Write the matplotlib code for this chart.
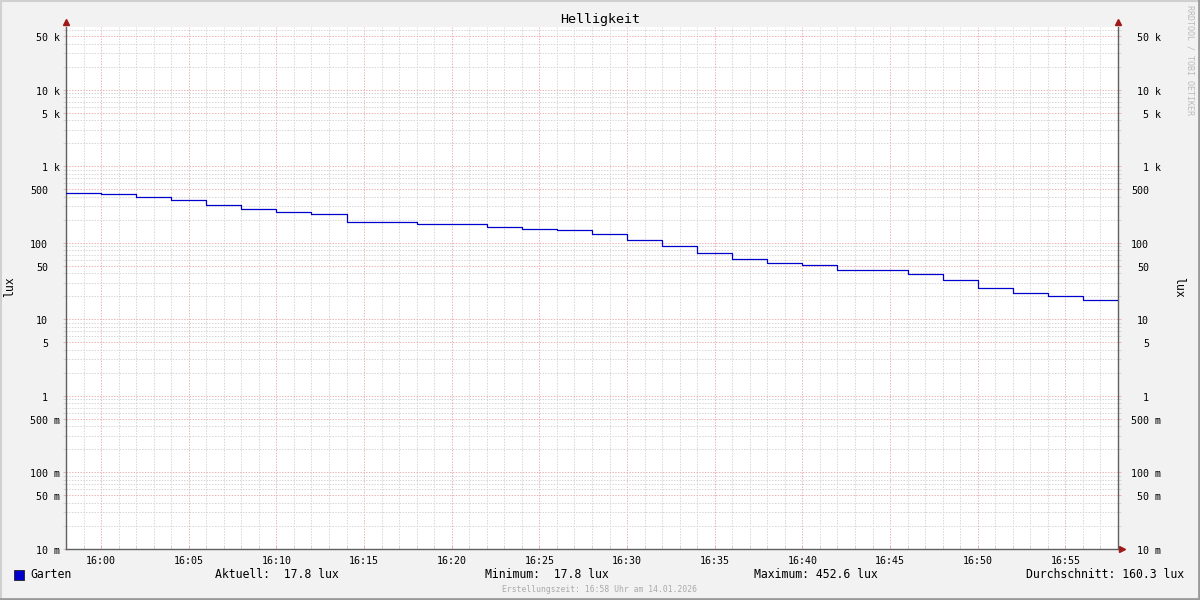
import matplotlib
matplotlib.use("Agg")
import matplotlib.pyplot as plt
import matplotlib.dates as mdates
import matplotlib.transforms as mtransforms
import pandas as pd
from matplotlib.lines import Line2D
from matplotlib.patches import Rectangle
from matplotlib.ticker import FixedLocator, NullFormatter

# brightness samples, one every 2 minutes (start of each step)
slot_times = ["15:58", "16:00", "16:02", "16:04", "16:06", "16:08", "16:10", "16:12",
              "16:14", "16:16", "16:18", "16:20", "16:22", "16:24", "16:26", "16:28",
              "16:30", "16:32", "16:34", "16:36", "16:38", "16:40", "16:42", "16:44",
              "16:46", "16:48", "16:50", "16:52", "16:54", "16:56"]
lux_values = [452.6, 433, 396, 361, 314, 276, 252, 237,
              187, 187, 176, 176, 160, 151, 147, 130,
              108, 90.5, 73.3, 61.2, 54.3, 51.1, 44.0, 44.0,
              39.0, 32.5, 25.6, 22.0, 20.1, 17.8]
end_time = "16:58"

ytick_values = [0.01, 0.05, 0.1, 0.5, 1, 5, 10, 50, 100, 500, 1000, 5000, 10000, 50000]
ytick_numbers = ["10", "50", "100", "500", "1", "5", "10", "50", "100", "500", "1", "5", "10", "50"]
ytick_suffix = ["m", "m", "m", "m", "", "", "", "", "", "", "k", "k", "k", "k"]

legend_name = "Garten"
stats = [("Aktuell:  17.8 lux", 215, "left"),
         ("Minimum:  17.8 lux", 485, "left"),
         ("Maximum: 452.6 lux", 754, "left"),
         ("Durchschnitt: 160.3 lux", 1184, "right")]
footer = "Erstellungszeit: 16:58 Uhr am 14.01.2026"

BG = "#F2F2F2"
LINE = "#0000CC"
MINOR = "#D6D6D6"
MAJOR = "#ECB4B4"
AXIS = "#606060"
ARROW = "#A01818"
FONT = "DejaVu Sans Mono"

plt.rcParams["font.family"] = [FONT]

day = "2026-01-14 "
x = pd.to_datetime([day + t for t in slot_times + [end_time]])
y = lux_values + [lux_values[-1]]

W, H = 1200, 600
fig = plt.figure(figsize=(12, 6), dpi=100, facecolor=BG)
ax = fig.add_axes([66 / W, 1 - 549 / H, (1118 - 66) / W, (549 - 27) / H])
ax.set_facecolor("white")

ax.step(x, y, where="post", color=LINE, lw=0.9, zorder=3)

ax.set_yscale("log")
ax.set_ylim(0.01, 66000)
ax.set_xlim(x[0], x[-1])

# grid
minor_y = [m * 10.0 ** e for e in range(-2, 5) for m in (2, 3, 4, 6, 7, 8, 9)]
ax.yaxis.set_major_locator(FixedLocator(ytick_values))
ax.yaxis.set_minor_locator(FixedLocator(minor_y))
ax.yaxis.set_major_formatter(NullFormatter())
ax.yaxis.set_minor_formatter(NullFormatter())
ax.xaxis.set_major_locator(mdates.MinuteLocator(byminute=range(0, 60, 5)))
ax.xaxis.set_minor_locator(mdates.MinuteLocator())
ax.xaxis.set_major_formatter(mdates.DateFormatter("%H:%M"))

dots = (0, (1.4, 1.4))
ax.grid(which="minor", color=MINOR, lw=0.72, ls=dots)
ax.grid(which="major", color=MAJOR, lw=0.72, ls=dots)
ax.set_axisbelow(True)

ax.tick_params(axis="y", which="both", direction="out", length=2, width=0.7,
               left=True, right=True, colors=MINOR)
ax.tick_params(axis="y", which="major", colors=MAJOR)
ax.tick_params(axis="x", which="both", direction="in", length=3, width=0.7, colors=MINOR)
ax.tick_params(axis="x", which="major", colors=MAJOR, labelcolor="black",
               labelsize=7.2, pad=5)

ax.spines["top"].set_visible(False)
for side in ("left", "right", "bottom"):
    ax.spines[side].set_color(AXIS)
    ax.spines[side].set_linewidth(1.0)

# y labels, both sides, number right-aligned with room for the unit letter
trans = ax.get_yaxis_transform()
for val, num, suf in zip(ytick_values, ytick_numbers, ytick_suffix):
    label = num + " " + suf if suf else num
    lx = -6 if suf else -18
    rx = 43 if suf else 31
    tl = mtransforms.offset_copy(trans, fig=fig, x=lx, y=-2, units="dots")
    ax.text(0, val, label, transform=tl, ha="right", va="center",
            fontsize=7.2, clip_on=False)
    tr = mtransforms.offset_copy(trans, fig=fig, x=rx, y=-2, units="dots")
    ax.text(1, val, label, transform=tr, ha="right", va="center",
            fontsize=7.2, clip_on=False)

# arrows at axis ends
ax.plot([0], [1.01], marker="^", color=ARROW, ms=4, transform=ax.transAxes, clip_on=False)
ax.plot([1], [1.01], marker="^", color=ARROW, ms=4, transform=ax.transAxes, clip_on=False)
ax.plot([1.004], [0], marker=">", color=ARROW, ms=4, transform=ax.transAxes, clip_on=False)

# titles and axis labels
fig.text(600 / W, 1 - 19 / H, "Helligkeit", ha="center", va="center", fontsize=9.6)
fig.text(10 / W, 1 - 287 / H, "lux", rotation=90, ha="center", va="center", fontsize=8.3)
fig.text(1179 / W, 1 - 287 / H, "lux", rotation=-90, ha="center", va="center", fontsize=8.3)
fig.text(1190 / W, 1 - 5 / H, "RRDTOOL / TOBI OETIKER", rotation=-90, ha="center", va="top",
         fontsize=6, color="#BBBBBB")

# legend row
fig.add_artist(Rectangle((14 / W, 1 - 580 / H), 10 / W, 10 / H, transform=fig.transFigure,
                         facecolor=LINE, edgecolor="#202020", lw=0.6))
fig.text(30 / W, 1 - 575 / H, legend_name, ha="left", va="center", fontsize=8.3)
for txt, px, ha in stats:
    fig.text(px / W, 1 - 575 / H, txt, ha=ha, va="center", fontsize=8.3)
fig.text(600 / W, 1 - 589 / H, footer, ha="center", va="center", fontsize=5.8, color="#AAAAAA")

# 3d frame around the image
fig.add_artist(Line2D([0, 1], [1 - 1 / H, 1 - 1 / H], transform=fig.transFigure, color="#D0D0D0", lw=1.5))
fig.add_artist(Line2D([1 / W, 1 / W], [0, 1], transform=fig.transFigure, color="#D0D0D0", lw=1.5))
fig.add_artist(Line2D([0, 1], [1 / H, 1 / H], transform=fig.transFigure, color="#9A9A9A", lw=2))
fig.add_artist(Line2D([1 - 1 / W, 1 - 1 / W], [0, 1], transform=fig.transFigure, color="#9A9A9A", lw=2))

fig.savefig("out.png", dpi=100, facecolor=BG)
